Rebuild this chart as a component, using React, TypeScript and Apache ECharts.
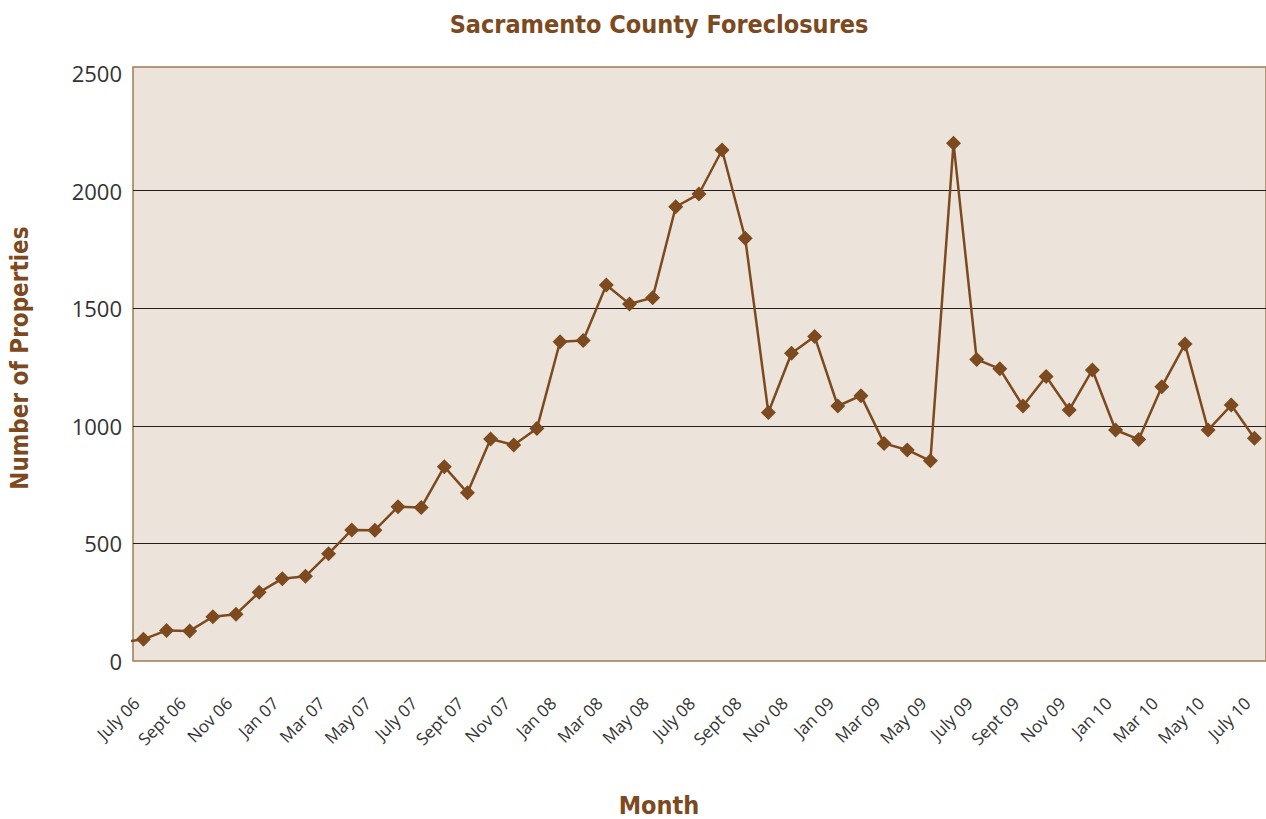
import React, { useEffect, useRef } from "react";
import * as echarts from "echarts";

const months: string[] = [
  "June 06", "July 06", "Aug 06", "Sept 06", "Oct 06", "Nov 06", "Dec 06",
  "Jan 07", "Feb 07", "Mar 07", "Apr 07", "May 07", "June 07", "July 07", "Aug 07", "Sept 07", "Oct 07", "Nov 07", "Dec 07",
  "Jan 08", "Feb 08", "Mar 08", "Apr 08", "May 08", "June 08", "July 08", "Aug 08", "Sept 08", "Oct 08", "Nov 08", "Dec 08",
  "Jan 09", "Feb 09", "Mar 09", "Apr 09", "May 09", "June 09", "July 09", "Aug 09", "Sept 09", "Oct 09", "Nov 09", "Dec 09",
  "Jan 10", "Feb 10", "Mar 10", "Apr 10", "May 10", "June 10", "July 10",
];

const foreclosures: number[] = [
  79, 92, 130, 128, 188, 199, 292,
  350, 360, 456, 557, 556, 656, 652, 826, 715, 944, 918, 988,
  1357, 1362, 1598, 1518, 1544, 1931, 1985, 2172, 1797, 1056, 1308, 1379,
  1084, 1128, 925, 897, 851, 2201, 1282, 1242, 1084, 1209, 1067, 1237,
  982, 942, 1166, 1347, 982, 1088, 947,
];

const tickLabels: string[] = [
  "July 06", "Sept 06", "Nov 06", "Jan 07", "Mar 07", "May 07", "July 07", "Sept 07", "Nov 07",
  "Jan 08", "Mar 08", "May 08", "July 08", "Sept 08", "Nov 08", "Jan 09", "Mar 09", "May 09",
  "July 09", "Sept 09", "Nov 09", "Jan 10", "Mar 10", "May 10", "July 10",
];

const yLabels: number[] = [0, 500, 1000, 1500, 2000, 2500];
const gridValues: number[] = [500, 1000, 1500, 2000];

const BROWN = "#7C4A1E";
const TITLE_FONT = "'DejaVu Sans Condensed', 'DejaVu Sans', sans-serif";
const LABEL_FONT = "'Open Sans', 'Noto Sans', sans-serif";

export default function App() {
  const ref = useRef<HTMLDivElement>(null);

  useEffect(() => {
    if (!ref.current) return;
    const chart = echarts.init(ref.current, undefined, { renderer: "svg" });
    const tickIdx = tickLabels.map((l) => months.indexOf(l));
    chart.setOption({
      animation: false,
      backgroundColor: "#ffffff",
      title: [
        {
          text: "Sacramento County Foreclosures",
          left: 654,
          top: 7,
          textAlign: "center",
          textStyle: {
            fontFamily: TITLE_FONT,
            fontWeight: "bold",
            fontSize: 25,
            color: BROWN,
          },
        },
        {
          text: "Month",
          left: 654,
          top: 787,
          textAlign: "center",
          textStyle: {
            fontFamily: TITLE_FONT,
            fontWeight: "bold",
            fontSize: 25,
            lineHeight: 26,
            color: BROWN,
          },
        },
      ],
      graphic: [
        {
          type: "text",
          x: 20,
          y: 358,
          rotation: Math.PI / 2,
          style: {
            text: "Number of Properties",
            fontFamily: TITLE_FONT,
            fontWeight: "bold",
            fontSize: 24,
            fill: BROWN,
            textAlign: "center",
            textVerticalAlign: "middle",
          },
        },
      ],
      grid: {
        left: 133,
        top: 67,
        width: 1134,
        height: 594,
        show: true,
        backgroundColor: "#ECE4DA",
        borderColor: "#A47A52",
        borderWidth: 1.5,
      },
      xAxis: {
        type: "value",
        min: 0.55,
        max: 49.5,
        axisLine: { show: false },
        axisTick: { show: false },
        splitLine: { show: false },
        axisLabel: {
          customValues: tickIdx,
          rotate: 45,
          margin: 32,
          padding: [0, 10, 0, 0],
          fontFamily: LABEL_FONT,
          fontSize: 17,
          color: "#333333",
          formatter: (v: number) => months[Math.round(v)] ?? "",
        },
      },
      yAxis: {
        type: "value",
        min: 0,
        max: 2525,
        axisLine: { show: false },
        axisTick: {
          show: true,
          customValues: gridValues,
          inside: true,
          length: 1134,
          lineStyle: { color: "#231F20", width: 1.2 },
        },
        splitLine: { show: false },
        axisLabel: {
          customValues: yLabels,
          margin: 11,
          fontFamily: LABEL_FONT,
          fontSize: 22,
          color: "#333333",
          formatter: (v: number) => String(v),
        },
      },
      series: [
        {
          type: "line",
          data: foreclosures.map((v, i) => [i, v]),
          clip: true,
          symbol: "diamond",
          symbolSize: 15,
          itemStyle: { color: BROWN },
          lineStyle: { color: BROWN, width: 2.5 },
        },
      ],
    });
    return () => chart.dispose();
  }, []);

  return (
    <div
      ref={ref}
      style={{ position: "fixed", left: 0, top: 0, width: 1266, height: 819 }}
    />
  );
}
